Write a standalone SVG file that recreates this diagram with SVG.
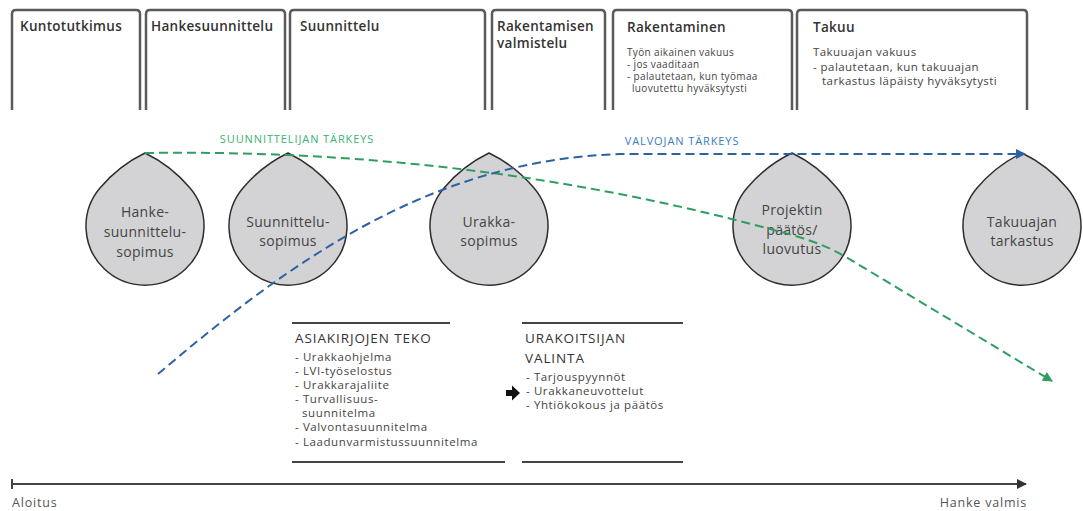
<svg xmlns="http://www.w3.org/2000/svg" width="1083" height="511" viewBox="0 0 1083 511">
<style>
.box{fill:none;stroke:#5a5a5a;stroke-width:2.5}
.hd{font-family:"Open Sans","Liberation Sans",sans-serif;font-size:13.5px;font-weight:600;fill:#333;letter-spacing:0.3px}
.bt{font-family:"Open Sans","Liberation Sans",sans-serif;font-size:10px;fill:#444;letter-spacing:0.35px}
.bt2{font-family:"Open Sans","Liberation Sans",sans-serif;font-size:11.5px;fill:#444;letter-spacing:0.45px}
.drop{fill:#d3d3d5;stroke:#2e2e2e;stroke-width:1.5}
.dt{font-family:"Open Sans","Liberation Sans",sans-serif;font-size:14px;fill:#444;text-anchor:middle;letter-spacing:0.3px}
.lbl{font-family:"Open Sans","Liberation Sans",sans-serif;font-size:11px;letter-spacing:0.9px;text-anchor:middle}
.blk{font-family:"Open Sans","Liberation Sans",sans-serif;font-size:13.5px;fill:#333;letter-spacing:0.9px}
.li{font-family:"Open Sans","Liberation Sans",sans-serif;font-size:11.5px;fill:#444;letter-spacing:0.6px}
.tl{font-family:"Open Sans","Liberation Sans",sans-serif;font-size:12.5px;fill:#555;letter-spacing:0.8px}
.rule{stroke:#444;stroke-width:2}
.green{fill:none;stroke:#2e9e62;stroke-width:2;stroke-dasharray:9 5}
.blue{fill:none;stroke:#2c62a3;stroke-width:2;stroke-dasharray:9 5}
</style>
<defs>
<marker id="ab" viewBox="0 0 10 10" refX="9" refY="5" markerWidth="5.5" markerHeight="5" markerUnits="strokeWidth" orient="auto"><path d="M0,0 L10,5 L0,10 z" fill="#2c62a3"/></marker>
<marker id="ag" viewBox="0 0 10 10" refX="9" refY="5" markerWidth="5.5" markerHeight="5" markerUnits="strokeWidth" orient="auto"><path d="M0,0 L10,5 L0,10 z" fill="#2e9e62"/></marker>
<marker id="ak" viewBox="0 0 10 10" refX="9" refY="5" markerWidth="7" markerHeight="5" markerUnits="strokeWidth" orient="auto"><path d="M0,0 L10,5 L0,10 z" fill="#333"/></marker>
</defs>
<g id="phase-kuntotutkimus"><path class="box" d="M12,110 V14 Q12,10 16,10 H136 Q140,10 140,14 V110"/><text class="hd" x="20" y="31">Kuntotutkimus</text></g>
<g id="phase-hankesuunnittelu"><path class="box" d="M146,110 V14 Q146,10 150,10 H281 Q285,10 285,14 V110"/><text class="hd" x="151" y="31">Hankesuunnittelu</text></g>
<g id="phase-suunnittelu"><path class="box" d="M290,110 V14 Q290,10 294,10 H481 Q485,10 485,14 V110"/><text class="hd" x="300" y="31">Suunnittelu</text></g>
<g id="phase-rakentamisen-valmistelu"><path class="box" d="M492,110 V14 Q492,10 496,10 H601 Q605,10 605,14 V110"/><text class="hd" x="497" y="31">Rakentamisen</text><text class="hd" x="497" y="48">valmistelu</text></g>
<g id="phase-rakentaminen"><path class="box" d="M613,110 V14 Q613,10 617,10 H788 Q792,10 792,14 V110"/><text class="hd" x="627" y="32">Rakentaminen</text><text class="bt" x="627" y="56">Työn aikainen vakuus</text><text class="bt" x="627" y="68">- jos vaaditaan</text><text class="bt" x="627" y="80">- palautetaan, kun työmaa</text><text class="bt" x="632" y="92">luovutettu hyväksytysti</text></g>
<g id="phase-takuu"><path class="box" d="M797,110 V14 Q797,10 801,10 H1023 Q1027,10 1027,14 V110"/><text class="hd" x="813" y="32">Takuu</text><text class="bt2" x="813" y="56">Takuuajan vakuus</text><text class="bt2" x="813" y="71">- palautetaan, kun takuuajan</text><text class="bt2" x="822" y="85">tarkastus läpäisty hyväksytysti</text></g>

<g id="drop-hankesuunnittelusopimus"><path class="drop" d="M145,153 Q171,165.5 190,188 A59,59 0 1 1 100,188 Q119,165.5 145,153 Z"/><text class="dt" x="145" y="217">Hanke-</text><text class="dt" x="145" y="237">suunnittelu-</text><text class="dt" x="145" y="257">sopimus</text></g>
<g id="drop-suunnittelusopimus"><path class="drop" d="M288,153 Q314,165.5 333,188 A59,59 0 1 1 243,188 Q262,165.5 288,153 Z"/><text class="dt" x="288" y="227">Suunnittelu-</text><text class="dt" x="288" y="246">sopimus</text></g>
<g id="drop-urakkasopimus"><path class="drop" d="M489,153 Q515,165.5 534,188 A59,59 0 1 1 444,188 Q463,165.5 489,153 Z"/><text class="dt" x="489" y="227">Urakka-</text><text class="dt" x="489" y="246">sopimus</text></g>
<g id="drop-projektin-paatos"><path class="drop" d="M792,153 Q818,165.5 837,188 A59,59 0 1 1 747,188 Q766,165.5 792,153 Z"/><text class="dt" x="792" y="215">Projektin</text><text class="dt" x="792" y="235">päätös/</text><text class="dt" x="792" y="254">luovutus</text></g>
<g id="drop-takuuajan-tarkastus"><path class="drop" d="M1022,153 Q1048,165.5 1067,188 A59,59 0 1 1 977,188 Q996,165.5 1022,153 Z"/><text class="dt" x="1022" y="227">Takuuajan</text><text class="dt" x="1022" y="246">tarkastus</text></g>

<g id="block-asiakirjojen-teko"><line class="rule" x1="292" y1="323" x2="450" y2="323"/><line class="rule" x1="292" y1="462" x2="505" y2="462"/><text class="blk" x="295" y="343">ASIAKIRJOJEN TEKO</text><text class="li" x="295" y="361">- Urakkaohjelma</text><text class="li" x="295" y="375">- LVI-työselostus</text><text class="li" x="295" y="389">- Urakkarajaliite</text><text class="li" x="295" y="403">- Turvallisuus-</text><text class="li" x="302" y="417">suunnitelma</text><text class="li" x="295" y="431">- Valvontasuunnitelma</text><text class="li" x="295" y="446">- Laadunvarmistussuunnitelma</text></g>
<g id="block-urakoitsijan-valinta"><line class="rule" x1="522" y1="323" x2="683" y2="323"/><line class="rule" x1="522" y1="462" x2="683" y2="462"/><text class="blk" x="525" y="343">URAKOITSIJAN</text><text class="blk" x="525" y="363">VALINTA</text><text class="li" x="526" y="381">- Tarjouspyynnöt</text><text class="li" x="526" y="395">- Urakkaneuvottelut</text><text class="li" x="526" y="409">- Yhtiökokous ja päätös</text></g>
<g id="timeline"><line x1="12" y1="479" x2="12" y2="489" stroke="#444" stroke-width="2"/><line x1="12" y1="484" x2="1026" y2="484" stroke="#444" stroke-width="2" marker-end="url(#ak)"/><text class="tl" x="12" y="507">Aloitus</text><text class="tl" x="1027" y="507" text-anchor="end">Hanke valmis</text></g>

<g id="connectors">
<path id="flow-arrow" d="M506,390 H512 V385.5 L520,393 L512,400.5 V396 H506 Z" fill="#111"/>
<path class="green" d="M145,153 C350,150 560,172 770,229 C800,237 822,243 846,257 L1052,381" marker-end="url(#ag)"/>
<path class="blue" d="M158,374 C290,262 430,160 620,154 L1025,154" marker-end="url(#ab)"/>
<text class="lbl" x="297" y="143" fill="#3bb273">SUUNNITTELIJAN TÄRKEYS</text>
<text class="lbl" x="682" y="145" fill="#3a7cc2">VALVOJAN TÄRKEYS</text>
</g>
</svg>
